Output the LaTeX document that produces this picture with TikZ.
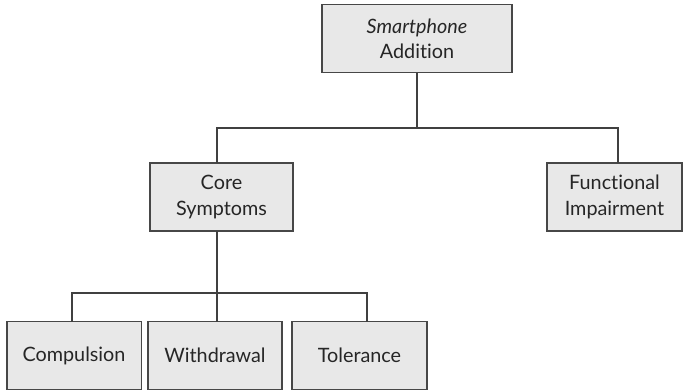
\documentclass[tikz,border=0pt]{standalone}
\usepackage{fontspec}
\setmainfont{Lato}[Ligatures={NoCommon}]
\begin{document}
\begin{tikzpicture}[x=1pt,y=-1pt,
  box/.style={draw=black!72, line width=1.5pt, fill=black!9, outer sep=0pt,
    inner sep=0pt, minimum height=68pt, align=center,
    font=\fontsize{19.8}{25.5}\selectfont, text=black!85},
  link/.style={draw=black!75, line width=1.3pt}]
\useasboundingbox (0,0) rectangle (683,391);

% boxes
\node[box, minimum width=190pt] (top) at (417,38.7) {\textit{Smartphone}\\Addition};
\node[box, minimum width=143pt] (cs) at (221.5,197) {Core\\Symptoms};
\node[box, minimum width=135pt] (fi) at (614.5,197) {Functional\\Impairment};
\node[box, minimum width=134.5pt] (comp) at (74,355.5) {Compulsion};
\node[box, minimum width=134pt] (with) at (215,355.5) {Withdrawal};
\node[box, minimum width=135pt] (tol) at (359.5,355.5) {Tolerance};

% bus junctions
\coordinate (csT) at (217,128);
\coordinate (fiT) at (618,128);
\coordinate (b1) at (72,293);
\coordinate (b2) at (217,293);
\coordinate (b3) at (367,293);

% upper tree
\draw[link] (top.south) -- (top.south |- csT);
\draw[link] (csT |- cs.north) -- (csT) -- (fiT) -- (fiT |- fi.north);

% lower tree
\draw[link] (b2 |- cs.south) -- (b2 |- with.north);
\draw[link] (b1 |- comp.north) -- (b1) -- (b3) -- (b3 |- tol.north);
\end{tikzpicture}
\end{document}
